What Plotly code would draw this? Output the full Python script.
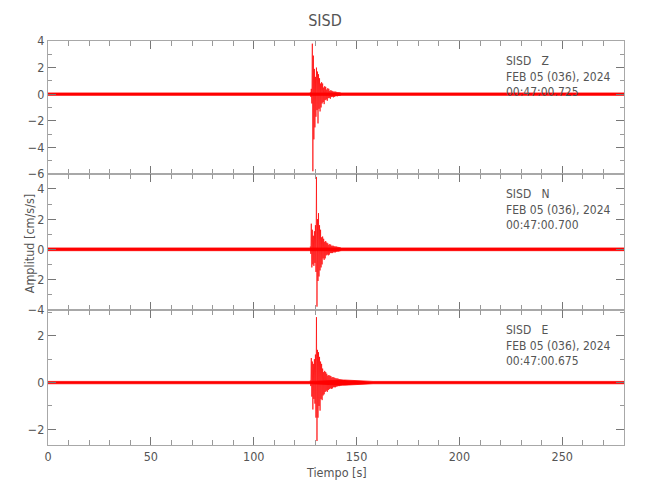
import plotly.graph_objects as go
from plotly.subplots import make_subplots

# ---------------- data ----------------
components = ["Z", "N", "E"]
start_times = ["00:47:00.725", "00:47:00.700", "00:47:00.675"]
station = "SISD"
date_label = "FEB 05 (036), 2024"

event_t0 = 127.5      # s, first sample of the event window
event_dt = 0.25       # s, sample interval of the event window

z_event = [0.15, -0.2, 0.4, -0.7,
           3.8, -5.8, 2.9, -3.4,
           1.9, -2.5, 1.3, -1.7,
           2.0, -1.2, 1.7, -2.2,
           1.5, -1.1, 1.2, -1.3,
           0.8, -1.0, 0.9, -0.7,
           0.8, -0.6, 0.5, -0.75,
           0.6, -0.45, 0.55, -0.4,
           0.35, -0.5, 0.45, -0.3,
           0.4, -0.28, 0.25, -0.35,
           0.3, -0.22, 0.25, -0.2,
           0.22, -0.24, 0.18, -0.2,
           0.2, -0.16, 0.18, -0.15,
           0.15, -0.16, 0.14, -0.13,
           0.14, -0.12, 0.12, -0.12]

n_event = [0.2, -0.3, 1.7, -1.2,
           1.3, -1.0, 0.9, -1.1,
           1.2, -0.9, 1.6, -1.5,
           4.8, -3.8, 2.0, -2.1,
           2.4, -1.8, 1.6, -1.4,
           1.3, -1.2, 0.8, -1.0,
           0.85, -0.6, 0.7, -0.7,
           0.5, -0.6, 0.55, -0.4,
           0.45, -0.35, 0.4, -0.4,
           0.3, -0.35, 0.35, -0.25,
           0.3, -0.25, 0.22, -0.25,
           0.25, -0.2, 0.22, -0.2,
           0.18, -0.2, 0.2, -0.16,
           0.17, -0.15, 0.16, -0.15,
           0.15, -0.13, 0.13, -0.12]

e_event = [0.1, -0.15, 1.05, -0.6,
           0.9, -1.15, 0.8, -0.7,
           1.0, -0.9, 1.2, -1.5,
           2.8, -2.5, 1.4, -1.5,
           1.3, -1.0, 1.1, -1.2,
           0.9, -0.7, 0.8, -0.75,
           0.6, -0.55, 0.45, -0.5,
           0.5, -0.4, 0.45, -0.35,
           0.38, -0.4, 0.3, -0.32,
           0.32, -0.28, 0.3, -0.25,
           0.28, -0.27, 0.22, -0.25,
           0.24, -0.2, 0.22, -0.2,
           0.2, -0.2, 0.18, -0.17,
           0.18, -0.16, 0.17, -0.15,
           0.15, -0.15, 0.14, -0.13,
           0.13, -0.12, 0.12, -0.11]

# background noise envelope (half-width) at knot times
z_noise_t = [0, 127.5, 142.0, 148, 280]
z_noise_a = [0.09, 0.09, 0.12, 0.09, 0.09]
n_noise_t = [0, 127.5, 142.0, 148, 280]
n_noise_a = [0.09, 0.09, 0.13, 0.09, 0.09]
e_noise_t = [0, 127.5, 144, 150, 158, 280]
e_noise_a = [0.05, 0.05, 0.11, 0.08, 0.05, 0.05]

y_ranges = [[-6, 4], [-4, 5], [-2.67, 3.12]]
x_range = [0, 280]

events = [z_event, n_event, e_event]
noise = [(z_noise_t, z_noise_a), (n_noise_t, n_noise_a), (e_noise_t, e_noise_a)]

# ---------------- figure ----------------
FONT = "DejaVu Sans Condensed, Liberation Sans Narrow, sans-serif"
RED = "#ff0000"
AXC = "#a8a8a8"
TXT = "#555555"

fig = make_subplots(rows=3, cols=1, shared_xaxes=True, vertical_spacing=0)

for i, (ev, (nt, na)) in enumerate(zip(events, noise)):
    row = i + 1
    bx = list(nt) + list(reversed(nt))
    by = list(na) + [-a for a in reversed(na)]
    fig.add_trace(go.Scatter(x=bx, y=by, mode="lines", fill="toself",
                             fillcolor=RED, line=dict(color=RED, width=0.8),
                             hoverinfo="skip", showlegend=False), row=row, col=1)
    ex = [event_t0 + k * event_dt for k in range(len(ev))]
    fig.add_trace(go.Scatter(x=ex, y=ev, mode="lines",
                             line=dict(color=RED, width=0.7),
                             showlegend=False), row=row, col=1)

domains = [[0.671, 1.0], [0.335, 0.671], [0.0, 0.335]]
for i in range(3):
    row = i + 1
    fig.update_yaxes(row=row, col=1, range=y_ranges[i], domain=domains[i],
                     dtick=2, tick0=0, ticks="inside", ticklen=8, tickwidth=1,
                     tickcolor="#777777", showline=True, linecolor=AXC, linewidth=1.2,
                     mirror="ticks", showgrid=False, zeroline=False, automargin=False,
                     tickfont=dict(family=FONT, size=12.5, color=TXT),
                     minor=dict(dtick=1, ticks="inside", ticklen=4, tickcolor="#999999"))
    fig.update_xaxes(row=row, col=1, range=x_range, dtick=50, tick0=0,
                     ticks="inside", ticklen=8, tickwidth=1, tickcolor="#777777",
                     showline=True, linecolor=AXC, linewidth=1.2, mirror="ticks",
                     showgrid=False, zeroline=False, automargin=False,
                     showticklabels=(row == 3),
                     tickfont=dict(family=FONT, size=12.5, color=TXT),
                     minor=dict(dtick=10, ticks="inside", ticklen=5, tickcolor="#999999"))

    dom = domains[i]
    fig.add_annotation(
        xref="paper", yref="paper", x=0.792, y=dom[1] - 0.027,
        xanchor="left", yanchor="top", align="left", showarrow=False,
        text=f"{station}   {components[i]}<br>{date_label}<br>{start_times[i]}",
        font=dict(family=FONT, size=12, color=TXT))

fig.add_annotation(xref="paper", yref="paper", x=0.5, y=-0.045, yanchor="top",
                   showarrow=False, text="Tiempo [s]",
                   font=dict(family=FONT, size=12.5, color=TXT))
fig.add_annotation(xref="paper", yref="paper", x=-0.016, y=0.5, xanchor="right",
                   textangle=-90, showarrow=False, text="Amplitud [cm/s/s]",
                   font=dict(family=FONT, size=12.5, color=TXT))

fig.update_layout(
    width=634, height=484,
    margin=dict(l=40, r=18, t=33, b=47),
    paper_bgcolor="white", plot_bgcolor="white",
    title=dict(text="SISD", x=0.5, xanchor="center", y=0.975, yanchor="middle",
               font=dict(family=FONT, size=16, color=TXT)),
    showlegend=False,
)

fig.write_html("out.html")
